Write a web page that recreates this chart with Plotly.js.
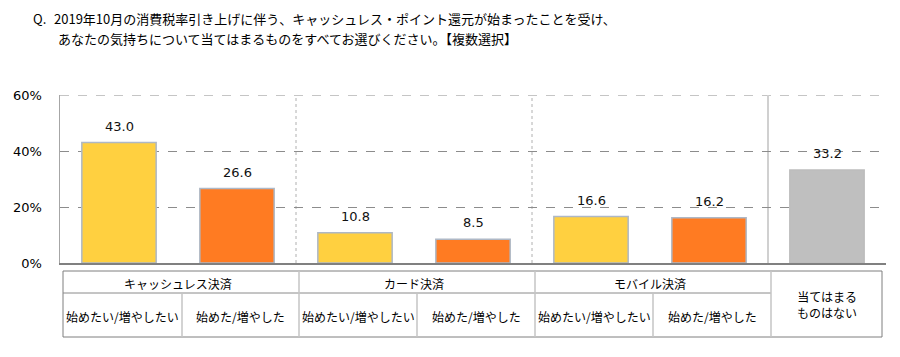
<!DOCTYPE html>
<html><head><meta charset="utf-8">
<script src="https://cdn.plot.ly/plotly-3.0.1.min.js"></script>
<style>html,body{margin:0;padding:0;background:#fff;}#chart{width:900px;height:357px;}</style>
</head><body><div id="chart"></div>
<script>
const positions = [0,1,2,3,4,5,6];
const values = [43.0, 26.6, 10.8, 8.5, 16.6, 16.2, 33.2];
const barColors = ['#FFD040','#FF7B22','#FFD040','#FF7B22','#FFD040','#FF7B22','#BFBFBF'];
const barLineColors = ['#AEB8C6','#AEB8C6','#AEB8C6','#AEB8C6','#AEB8C6','#AEB8C6','#BDBDBD'];
const groupLabels = ['キャッシュレス決済','カード決済','モバイル決済'];
const subLabels = ['始めたい/増やしたい','始めた/増やした','始めたい/増やしたい','始めた/増やした','始めたい/増やしたい','始めた/増やした'];
const lastLabel = '当てはまる<br>ものはない';
const yTickVals = [0,20,40,60];
const yTickText = ['0%','20%','40%','60%'];
const titlePrefix = 'Q.';
const titleLine1 = '2019年10月の消費税率引き上げに伴う、キャッシュレス・ポイント還元が始まったことを受け、';
const titleLine2 = 'あなたの気持ちについて当てはまるものをすべてお選びください。【複数選択】';

const JP = '"Noto Sans CJK JP", "Noto Sans", sans-serif';
const NUM = '"DejaVu Sans", sans-serif';

const trace = {
  type:'bar', x: positions, y: values,
  marker:{color: barColors, line:{color: barLineColors, width:1.5}},
  width: 0.63, hoverinfo:'none', showlegend:false
};

const annotations = [];
values.forEach((v,i)=>{
  annotations.push({x:positions[i], y:v, xref:'x', yref:'y', text:v.toFixed(1), showarrow:false,
    yanchor:'bottom', yshift:7, font:{family:NUM, size:13, color:'#111'}});
});
const pxX = px => (px-60)/826;
const pxY = py => (263-py)/168;
annotations.push({xref:'paper', yref:'paper', x:pxX(31), y:pxY(18), xanchor:'left', yanchor:'middle', text:titlePrefix, showarrow:false, font:{family:JP,size:13,color:'#000'}});
annotations.push({xref:'paper', yref:'paper', x:pxX(52), y:pxY(18), xanchor:'left', yanchor:'middle', text:titleLine1, showarrow:false, font:{family:JP,size:13,color:'#000'}});
annotations.push({xref:'paper', yref:'paper', x:pxX(56), y:pxY(38), xanchor:'left', yanchor:'middle', text:titleLine2, showarrow:false, font:{family:JP,size:13,color:'#000'}});

groupLabels.forEach((g,k)=>{
  annotations.push({xref:'x', yref:'paper', x:2*k+0.5, y:pxY(283), text:g, showarrow:false, yanchor:'middle', font:{family:JP,size:12,color:'#000'}});
});
subLabels.forEach((s,i)=>{
  annotations.push({xref:'x', yref:'paper', x:positions[i]+0.03, y:pxY(316), text:s, showarrow:false, yanchor:'middle', font:{family:JP,size:12,color:'#000'}});
});
annotations.push({xref:'x', yref:'paper', x:6, y:pxY(304), text:lastLabel, showarrow:false, yanchor:'middle', font:{family:JP,size:12,color:'#000'}});

const shapes = [];
shapes.push({type:'line', xref:'paper', yref:'y', x0:0, x1:1, y0:60, y1:60, line:{color:'#8C8C8C', width:1, dash:'dash'}, layer:'below'});
[1.5,3.5].forEach(x=>shapes.push({type:'line', xref:'x', yref:'paper', x0:x, x1:x, y0:0, y1:1, line:{color:'#B0B0B0', width:1, dash:'dot'}, layer:'below'}));
shapes.push({type:'line', xref:'x', yref:'paper', x0:5.5, x1:5.5, y0:0, y1:1, line:{color:'#D0D0D0', width:2}, layer:'below'});
const tx = px => (px-60)/118 - 0.5;
const tL = tx(63), tR = tx(882);
const yTop = pxY(271), yMid = pxY(293), yBot = pxY(337);
const line = (x0,y0,x1,y1,c,w)=>shapes.push({type:'line', xref:'x', yref:'paper', x0, x1, y0, y1, line:{color:c, width:w||1}});
line(tL,yTop,tR,yTop,'#7F7F7F');
line(tL,yBot,tR,yBot,'#7F7F7F');
line(tL,yTop,tL,yBot,'#7F7F7F');
line(tR,yTop,tR,yBot,'#7F7F7F');
line(tL,yMid,tx(771),yMid,'#8A8A8A');
[299,535,771].forEach(p=>line(tx(p),yTop,tx(p),yBot,'#C4C4C4',1.5));
[182,417,653].forEach(p=>line(tx(p),yMid,tx(p),yBot,'#C4C4C4',1.5));

const layout = {
  width:900, height:357,
  margin:{l:60, r:14, t:95, b:94},
  paper_bgcolor:'#fff', plot_bgcolor:'#fff',
  xaxis:{range:[-0.5,6.5], showticklabels:false, showgrid:false, zeroline:false, showline:true, linecolor:'#808080', linewidth:1.5, ticks:'', fixedrange:true},
  yaxis:{range:[0,60], tickvals:yTickVals, ticktext:yTickText, showgrid:true, gridcolor:'#8C8C8C', griddash:'dash', gridwidth:1,
    zeroline:false, showline:true, linecolor:'#A6A6A6', linewidth:1.5, ticks:'', ticklabelstandoff:14,
    tickfont:{family:NUM, size:13, color:'#000'}, fixedrange:true},
  annotations, shapes, bargap:0.37
};
Plotly.newPlot('chart',[trace],layout,{displayModeBar:false, staticPlot:true});
</script></body></html>
